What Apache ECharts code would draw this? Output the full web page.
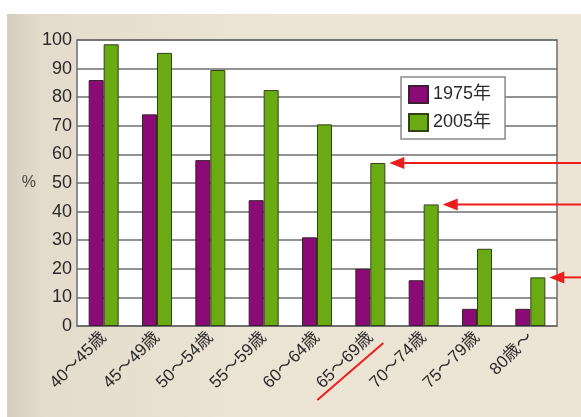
<!DOCTYPE html>
<html>
<head>
<meta charset="utf-8">
<script src="https://cdn.jsdelivr.net/npm/echarts@6/dist/echarts.min.js"></script>
<style>
  html, body { margin: 0; padding: 0; background: #fff; }
  #paper {
    position: absolute; left: 7px; top: 14px; width: 574px; height: 403px;
    background: linear-gradient(to right, #d5cebe 0%, #e3dbcb 6%, #ebe3d4 40%, #ece4d5 100%);
  }
  #chart { position: absolute; left: 0; top: 0; width: 581px; height: 417px; }
</style>
</head>
<body>
<div id="paper"></div>
<div id="chart"></div>
<script>
// 年齢区分
var categories = ["40～45歳", "45～49歳", "50～54歳", "55～59歳", "60～64歳", "65～69歳", "70～74歳", "75～79歳", "80歳～"];
// 1975年と2005年の値（%）
var values1975 = [86, 74, 58, 44, 31, 20, 16, 6, 6];
var values2005 = [98.5, 95.5, 89.5, 82.5, 70.5, 57, 42.5, 27, 17];
// 矢印で示すカテゴリ
var arrowIndexes = [5, 6, 8];
var underlineIndex = 5;

var chart = echarts.init(document.getElementById("chart"), null, { renderer: "canvas" });

var option = {
  backgroundColor: "transparent",
  animation: false,
  textStyle: { fontFamily: "Liberation Sans, Arial, Noto Sans CJK JP, sans-serif" },
  grid: {
    left: 77, top: 40, right: 24, bottom: 91,
    show: true, backgroundColor: "#fff", borderColor: "#6e6e6e", borderWidth: 1.5
  },
  legend: {
    orient: "vertical",
    left: 401, top: 77,
    backgroundColor: "#fff",
    borderColor: "#8a8a8a",
    borderWidth: 1.5,
    padding: [8, 14, 7, 7],
    itemWidth: 19, itemHeight: 17, itemGap: 9,
    icon: "rect",
    textStyle: { fontSize: 18, color: "#2a2a2a" },
    data: ["1975年", "2005年"]
  },
  xAxis: {
    type: "category",
    data: categories,
    axisLine: { lineStyle: { color: "#6e6e6e", width: 1.5 } },
    axisTick: { inside: true, length: 5, lineStyle: { color: "#6e6e6e" } },
    axisLabel: { rotate: 45, fontSize: 17, color: "#2a2a2a", margin: 9, interval: 0 }
  },
  yAxis: {
    type: "value",
    min: 0, max: 100, interval: 10,
    name: "%",
    nameLocation: "middle",
    nameRotate: 0,
    nameGap: 40,
    nameTextStyle: { fontSize: 16, color: "#444", padding: [0, 0, -12, 0] },
    axisLine: { show: false },
    axisTick: { show: false },
    axisLabel: { fontSize: 18, color: "#2a2a2a", margin: 5 },
    splitLine: { lineStyle: { color: "#6e6e6e", width: 1.5 } }
  },
  series: [
    {
      name: "1975年", type: "bar", data: values1975,
      barWidth: 15, barGap: "0%",
      itemStyle: { color: "#8b0b76", borderColor: "#3a2030", borderWidth: 1 }
    },
    {
      name: "2005年", type: "bar", data: values2005,
      barWidth: 15,
      itemStyle: { color: "#6aaa12", borderColor: "#34401c", borderWidth: 1 }
    }
  ]
};

chart.setOption(option);

// 赤い矢印と下線（注記）を棒の位置から作る
var graphics = [];
arrowIndexes.forEach(function (i) {
  var p = chart.convertToPixel({ seriesIndex: 1 }, [i, values2005[i]]);
  var tipX = p[0] + 15 + 4;
  var y = p[1];
  graphics.push({
    type: "line",
    shape: { x1: tipX + 12, y1: y, x2: 581, y2: y },
    style: { stroke: "#ee1c1c", lineWidth: 2 }
  });
  graphics.push({
    type: "polygon",
    shape: { points: [[tipX, y], [tipX + 15, y - 6], [tipX + 15, y + 6]] },
    style: { fill: "#ee1c1c" }
  });
});
var c = chart.convertToPixel({ seriesIndex: 1 }, [underlineIndex, 0]);
graphics.push({
  type: "line",
  shape: { x1: c[0] - 53, y1: c[1] + 74, x2: c[0] + 13, y2: c[1] + 17 },
  style: { stroke: "#ee1c1c", lineWidth: 2 }
});
chart.setOption({ graphic: graphics });
</script>
</body>
</html>
